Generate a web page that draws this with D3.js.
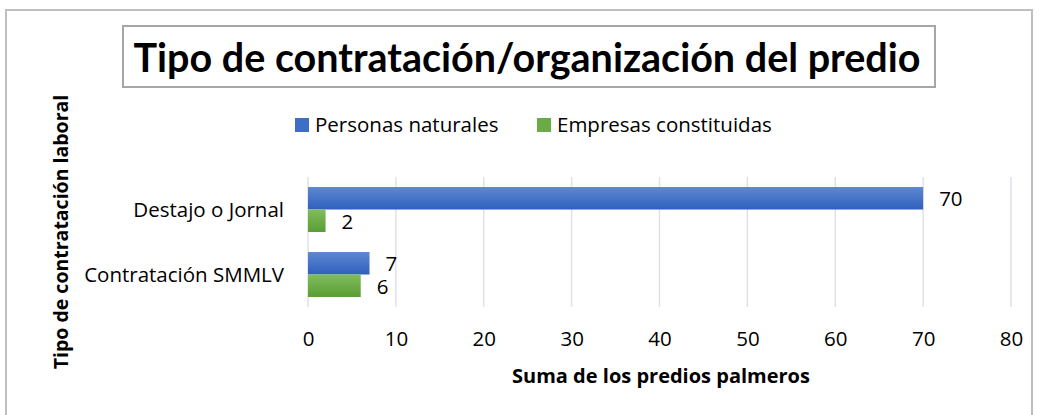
<!DOCTYPE html>
<html><head><meta charset="utf-8">
<script src="https://cdn.jsdelivr.net/npm/d3@7/dist/d3.min.js"></script>
<style>body{margin:0;background:#fff}svg{display:block}</style>
</head><body><svg id="c" width="1039" height="415"></svg>
<script>
const categories = ["Destajo o Jornal", "Contratación SMMLV"];
const seriesNames = ["Personas naturales", "Empresas constituidas"];
const personasNaturales = [70, 7];
const empresasConstituidas = [2, 6];
const xTicks = [0, 10, 20, 30, 40, 50, 60, 70, 80];
const titleText = "Tipo de contratación/organización del predio";
const xTitle = "Suma de los predios palmeros";
const yTitle = "Tipo de contratación laboral";

const FONT = "'Open Sans', sans-serif";
const TFONT = "Lato, 'Open Sans', sans-serif";
const FS = 20.5;
const svg = d3.select("#c");
const defs = svg.append("defs");
function grad(id, c1, c2) {
  const g = defs.append("linearGradient").attr("id", id).attr("x1", 0).attr("y1", 0).attr("x2", 0).attr("y2", 1);
  g.append("stop").attr("offset", "0%").attr("stop-color", c1);
  g.append("stop").attr("offset", "100%").attr("stop-color", c2);
}
grad("gBlue", "#5f88d2", "#2f60bd");
grad("gGreen", "#80bd5c", "#5a9d34");
const fills = ["url(#gBlue)", "url(#gGreen)"];
const legendColors = ["#3e6ec6", "#6aab45"];

// outer border
svg.append("rect").attr("x", 6).attr("y", 10).attr("width", 1026).attr("height", 430)
  .attr("fill", "none").attr("stroke", "#bfbfbf").attr("stroke-width", 2);

// title box
svg.append("rect").attr("x", 123).attr("y", 26).attr("width", 812).attr("height", 61)
  .attr("fill", "#fff").attr("stroke", "#a6a6a6").attr("stroke-width", 2);
svg.append("text").attr("x", 527).attr("y", 72).attr("text-anchor", "middle")
  .attr("font-family", TFONT).attr("font-weight", 700).attr("font-size", 39.5).attr("fill", "#000")
  .text(titleText);

const x = d3.scaleLinear().domain([0, 80]).range([308, 1011]);
const y0 = d3.scaleBand().domain(categories).range([177, 307]).paddingInner(0.308).paddingOuter(0.154);
const y1 = d3.scaleBand().domain(seriesNames).range([0, y0.bandwidth()]);

// gridlines
svg.append("g").selectAll("line").data(xTicks).join("line")
  .attr("x1", d => x(d)).attr("x2", d => x(d)).attr("y1", 177).attr("y2", 307)
  .attr("stroke", "#dde2ea").attr("stroke-width", 1.5);

// x axis labels
const xAxis = d3.axisBottom(x).tickValues(xTicks).tickSize(0).tickPadding(0);
const gx = svg.append("g").attr("transform", "translate(0,346)").call(xAxis);
gx.select(".domain").remove();
gx.selectAll("text").attr("font-family", FONT).attr("font-size", FS).attr("fill", "#000").attr("dy", "0");

// y axis labels
const yAxis = d3.axisLeft(y0).tickSize(0).tickPadding(0);
const gy = svg.append("g").attr("transform", "translate(284,0)").call(yAxis);
gy.select(".domain").remove();
gy.selectAll("text").attr("font-family", FONT).attr("font-size", FS).attr("fill", "#000").attr("dy", "0.35em");

const data = categories.map((c, i) => ({cat: c, vals: [personasNaturales[i], empresasConstituidas[i]]}));
const groups = svg.append("g").selectAll("g").data(data).join("g")
  .attr("transform", d => `translate(0,${y0(d.cat)})`);
groups.selectAll("rect").data(d => d.vals.map((v, j) => ({v, j}))).join("rect")
  .attr("x", x(0)).attr("y", d => y1(seriesNames[d.j]))
  .attr("width", d => x(d.v) - x(0)).attr("height", y1.bandwidth())
  .attr("fill", d => fills[d.j]);
groups.selectAll("text").data(d => d.vals.map((v, j) => ({v, j}))).join("text")
  .attr("x", d => x(d.v) + 16).attr("y", d => y1(seriesNames[d.j]) + y1.bandwidth() / 2 + 1)
  .attr("dy", "0.35em").attr("font-family", FONT).attr("font-size", FS).attr("fill", "#000")
  .text(d => d.v);

// legend
const legX = [295, 537];
const lg = svg.append("g").selectAll("g").data(seriesNames).join("g")
  .attr("transform", (d, i) => `translate(${legX[i]},118)`);
lg.append("rect").attr("width", 14).attr("height", 14).attr("fill", (d, i) => legendColors[i]);
lg.append("text").attr("x", 20).attr("y", 14).attr("font-family", FONT).attr("font-size", FS)
  .attr("fill", "#000").text(d => d);

// axis titles
svg.append("text").attr("x", 661).attr("y", 383).attr("text-anchor", "middle")
  .attr("font-family", FONT).attr("font-weight", 700).attr("font-size", 20).attr("fill", "#000")
  .text(xTitle);
svg.append("text").attr("transform", "translate(68,232) rotate(-90)").attr("text-anchor", "middle")
  .attr("font-family", FONT).attr("font-weight", 700).attr("font-size", 19.5).attr("fill", "#000")
  .text(yTitle);
</script></body></html>
